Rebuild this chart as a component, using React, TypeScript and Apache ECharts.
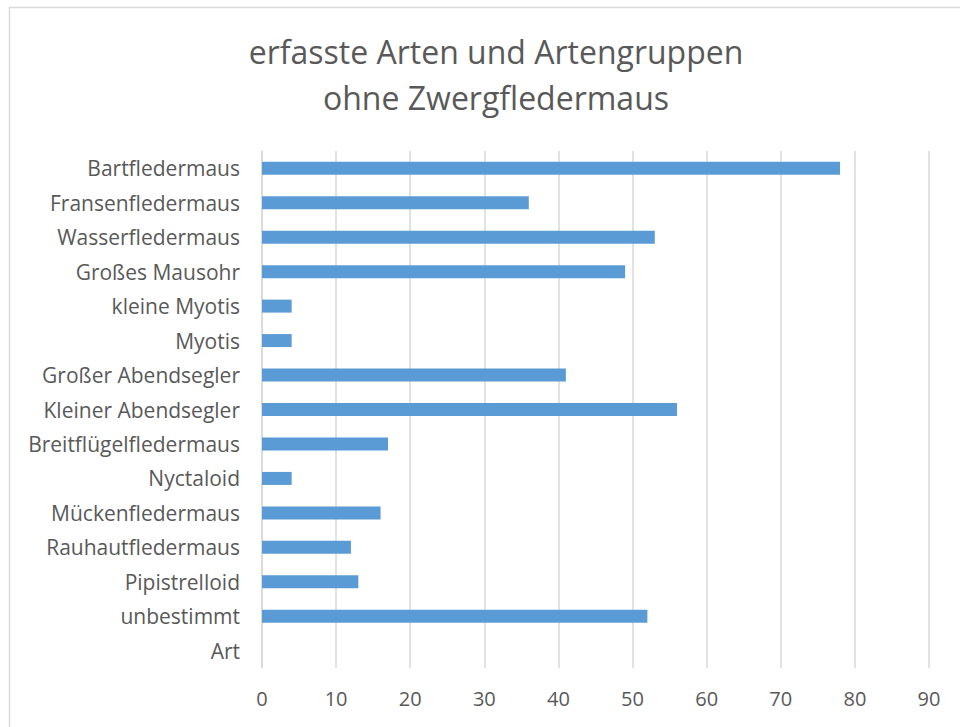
import React, { useEffect, useRef } from "react";
import * as echarts from "echarts";

const categories = [
  "Art",
  "unbestimmt",
  "Pipistrelloid",
  "Rauhautfledermaus",
  "Mückenfledermaus",
  "Nyctaloid",
  "Breitflügelfledermaus",
  "Kleiner Abendsegler",
  "Großer Abendsegler",
  "Myotis",
  "kleine Myotis",
  "Großes Mausohr",
  "Wasserfledermaus",
  "Fransenfledermaus",
  "Bartfledermaus",
];
const values: (number | null)[] = [null, 52, 13, 12, 16, 4, 17, 56, 41, 4, 4, 49, 53, 36, 78];
const titleLines = ["erfasste Arten und Artengruppen", "ohne Zwergfledermaus"];

export default function App() {
  const ref = useRef<HTMLDivElement>(null);
  useEffect(() => {
    if (!ref.current) return;
    const chart = echarts.init(ref.current, null, { renderer: "svg" });
    const font = "'Open Sans', 'Noto Sans', sans-serif";
    chart.setOption({
      animation: false,
      backgroundColor: "#ffffff",
      title: {
        text: titleLines.join("\n"),
        left: 491,
        textAlign: "center",
        top: 23,
        textStyle: {
          fontFamily: font,
          fontSize: 32,
          fontWeight: "normal",
          color: "#595959",
          lineHeight: 46,
        },
      },
      graphic: [
        {
          type: "rect",
          shape: { x: 9.5, y: 7.5, width: 960, height: 730 },
          style: { fill: "none", stroke: "#d9d9d9", lineWidth: 1.5 },
          silent: true,
        },
      ],
      grid: { left: 262, right: 31, top: 151, bottom: 59, containLabel: false },
      xAxis: {
        type: "value",
        min: 0,
        max: 90,
        interval: 10,
        axisLine: { show: false },
        axisTick: { show: false },
        splitLine: { show: true, lineStyle: { color: "#d9d9d9", width: 1.5 } },
        axisLabel: {
          color: "#595959",
          fontFamily: font,
          fontSize: 20,
          margin: 20,
        },
      },
      yAxis: {
        type: "category",
        data: categories,
        axisLine: { show: true, lineStyle: { color: "#d9d9d9", width: 1.5 } },
        axisTick: { show: false },
        axisLabel: {
          color: "#595959",
          fontFamily: font,
          fontSize: 21,
          margin: 22,
        },
      },
      series: [
        {
          type: "bar",
          data: values,
          barWidth: 13,
          itemStyle: { color: "#5b9bd5" },
        },
      ],
    });
    return () => chart.dispose();
  }, []);
  return (
    <div
      ref={ref}
      style={{ position: "fixed", left: 0, top: 0, width: 960, height: 727 }}
    />
  );
}
